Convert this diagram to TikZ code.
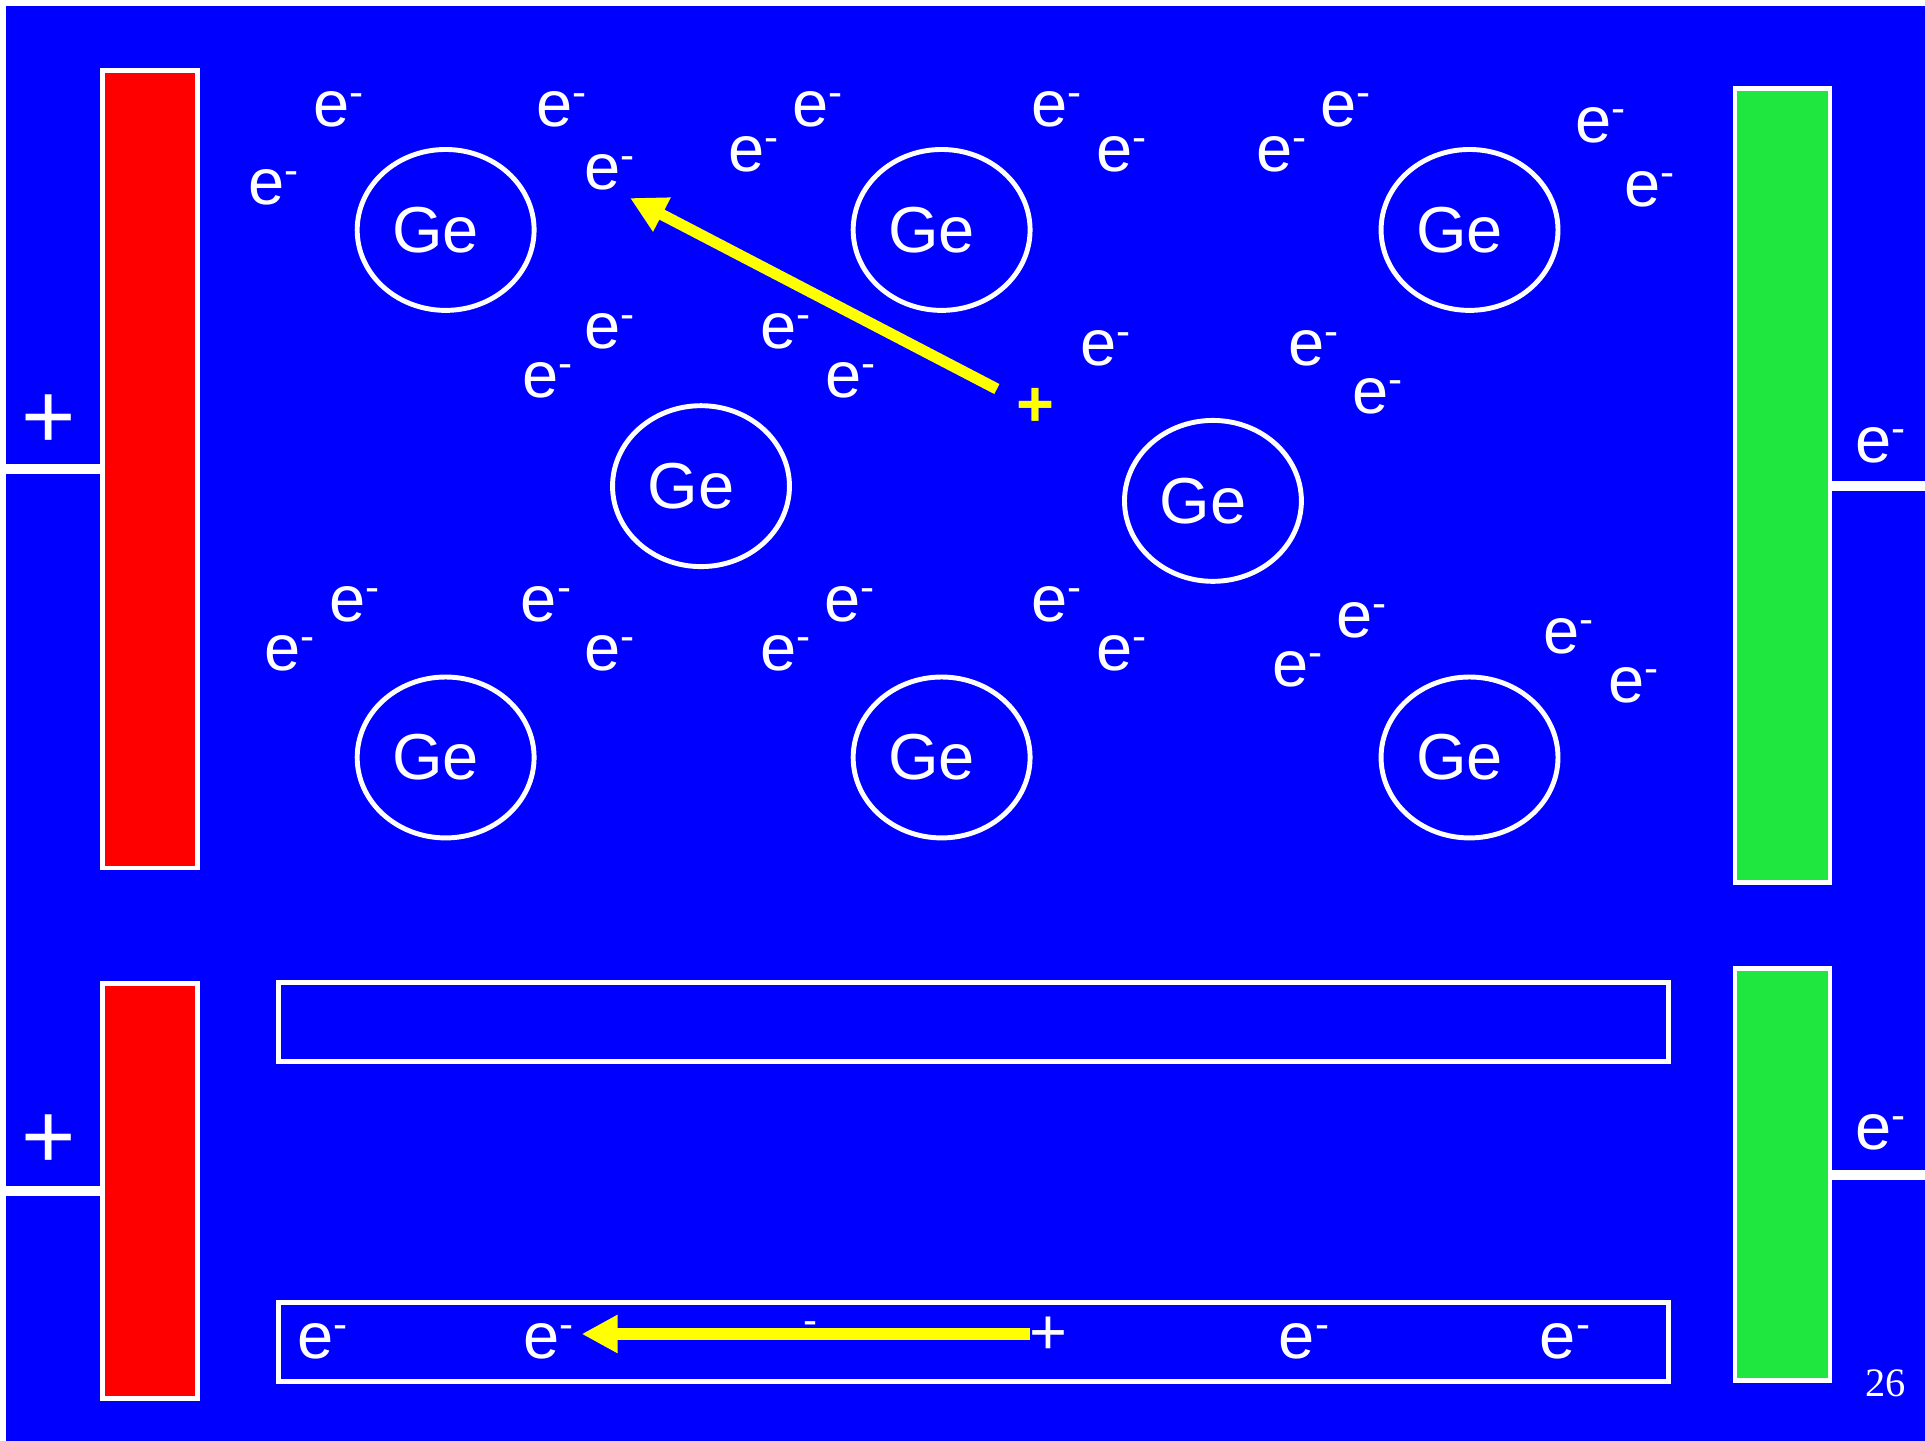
\documentclass[tikz,border=0pt]{standalone}
\usepackage{fontspec}
\setmainfont{Liberation Sans}
\newfontfamily\slidenumfont{Liberation Serif}
\usetikzlibrary{arrows.meta,shapes.geometric}
\definecolor{slideBlue}{RGB}{0,0,255}
\definecolor{plateRed}{RGB}{255,0,0}
\definecolor{plateGreen}{RGB}{32,230,64}
\definecolor{holeYellow}{RGB}{255,255,0}
\newcommand{\elec}{e\rlap{\smash{\raisebox{5.7pt}{\fontsize{12}{12}\selectfont -}}}}
\newcommand{\txtsize}{\fontsize{18.5}{22}\selectfont}

\begin{document}
\begin{tikzpicture}[x=0.012277cm,y=-0.012277cm,>={Triangle[length=0.36cm,width=0.36cm]},
  plate/.style={draw=white,line width=1.4pt,inner sep=0pt,minimum width=0.95cm},
  band/.style={draw=white,line width=1.4pt,inner sep=0pt,minimum width=13.9cm,minimum height=0.79cm},
  atom/.style={draw=white,line width=1.4pt,ellipse,minimum width=1.77cm,minimum height=1.61cm,text=white,font=\txtsize},
  electron/.style={text=white,inner sep=0pt,font=\txtsize},
  wire/.style={draw=white,line width=2.85pt},
  holearrow/.style={draw=holeYellow,line width=3.2pt}]
\useasboundingbox (0,0) rectangle (1568,1173.74);
\fill[slideBlue] (4.9,4.9) rectangle (1568,1173.74);
% plates and wires
\node[plate,fill=plateRed,minimum height=7.98cm] (redtop) at (122,382.2) {};
\node[plate,fill=plateRed,minimum height=4.15cm] (redbot) at (122,969.9) {};
\node[plate,fill=plateGreen,minimum height=7.94cm] (greentop) at (1451.9,395.5) {};
\node[plate,fill=plateGreen,minimum height=4.12cm] (greenbot) at (1451.9,956.9) {};
\coordinate (redtopend) at (0,382.2);
\coordinate (redbotend) at (0,969.9);
\coordinate (greentopend) at (1568,395.5);
\coordinate (greenbotend) at (1568,956.9);
\draw[wire] (redtop.west) -- (redtopend);
\draw[wire] (redbot.west) -- (redbotend);
\draw[wire] (greentop.east) -- (greentopend);
\draw[wire] (greenbot.east) -- (greenbotend);
\node[text=white,inner sep=0pt,font=\fontsize{26.5}{30}\selectfont] (plustop) at (40,343.7) {+};
\node[text=white,inner sep=0pt,font=\fontsize{26.5}{30}\selectfont] (plusbot) at (40,930) {+};
\node[electron] (e32) at (1526,362.5) {\elec};
\node[electron] (e33) at (1526,922) {\elec};
% germanium lattice
\node[atom] (ge1) at (363,187.3) {\kern-0.2cm Ge};
\node[atom] (ge2) at (767,187.3) {\kern-0.2cm Ge};
\node[atom] (ge3) at (1197,187.3) {\kern-0.2cm Ge};
\node[atom] (ge4) at (571,396) {\kern-0.2cm Ge};
\node[atom] (ge5) at (988,408) {\kern-0.2cm Ge};
\node[atom] (ge6) at (363,617) {\kern-0.2cm Ge};
\node[atom] (ge7) at (767,617) {\kern-0.2cm Ge};
\node[atom] (ge8) at (1197,617) {\kern-0.2cm Ge};
% free electrons
\node[electron] (e1) at (270,89) {\elec};
\node[electron] (e2) at (217,153) {\elec};
\node[electron] (e3) at (452,89) {\elec};
\node[electron] (e4) at (491,140) {\elec};
\node[electron] (e5) at (608,126) {\elec};
\node[electron] (e6) at (660,89) {\elec};
\node[electron] (e7) at (855,89) {\elec};
\node[electron] (e8) at (908,126) {\elec};
\node[electron] (e9) at (1038,126) {\elec};
\node[electron] (e10) at (1090,89) {\elec};
\node[electron] (e11) at (1298,102) {\elec};
\node[electron] (e12) at (1338,154) {\elec};
\node[electron] (e13) at (491,270) {\elec};
\node[electron] (e14) at (440,310) {\elec};
\node[electron] (e15) at (634,270) {\elec};
\node[electron] (e16) at (687,310) {\elec};
\node[electron] (e17) at (895,284) {\elec};
\node[electron] (e18) at (1064,284) {\elec};
\node[electron] (e19) at (1116,323) {\elec};
\node[electron] (e20) at (283,492) {\elec};
\node[electron] (e21) at (230,532) {\elec};
\node[electron] (e22) at (439,492) {\elec};
\node[electron] (e23) at (491,532) {\elec};
\node[electron] (e24) at (634,532) {\elec};
\node[electron] (e25) at (686,492) {\elec};
\node[electron] (e26) at (855,492) {\elec};
\node[electron] (e27) at (908,532) {\elec};
\node[electron] (e28) at (1103,505) {\elec};
\node[electron] (e29) at (1051,545) {\elec};
\node[electron] (e30) at (1272,518) {\elec};
\node[electron] (e31) at (1325,558) {\elec};
% hole moving
\node[text=holeYellow,inner sep=0pt,font=\txtsize\bfseries] (hole) at (843.8,331.5) {+};
\coordinate (holetail) at (812,316.9);
\coordinate (holetip) at (513.2,161.3);
\draw[->,holearrow] (holetail) -- (holetip);
% band picture
\node[band] (upperband) at (793,832.5) {};
\node[band] (lowerband) at (793,1093.1) {};
\node[electron] (e34) at (257,1092.5) {\elec};
\node[electron] (e35) at (441,1092.5) {\elec};
\node[electron] (e36) at (1056.5,1092.5) {\elec};
\node[electron] (e37) at (1269,1092.5) {\elec};
\node[text=white,inner sep=0pt,font=\fontsize{12}{12}\selectfont] (lonedash) at (660,1081.7) {-};
\node[text=white,inner sep=0pt,font=\txtsize] (bandplus) at (854,1087.8) {+};
\coordinate (bandtail) at (839,1086.6);
\coordinate (bandtip) at (473.8,1086.6);
\draw[->,holearrow] (bandtail) -- (bandtip);
\node[text=white,inner sep=0pt,font=\slidenumfont\fontsize{11.5}{12}\selectfont] (slidenum) at (1536.2,1126.5) {26};
\end{tikzpicture}
\end{document}
